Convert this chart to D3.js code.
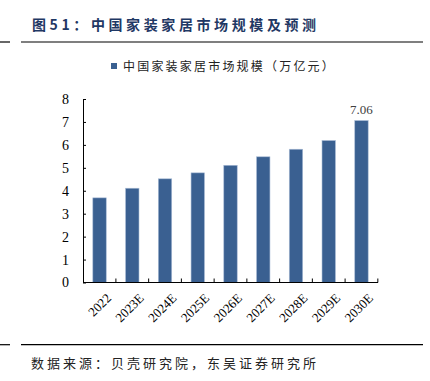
<!DOCTYPE html>
<html>
<head>
<meta charset="utf-8">
<script src="https://cdn.jsdelivr.net/npm/d3@7"></script>
<style>
  body { margin: 0; background: #fff; }
  svg { display: block; }
</style>
</head>
<body>
<script>
// chart data
var categories = ["2022", "2023E", "2024E", "2025E", "2026E", "2027E", "2028E", "2029E", "2030E"];
var values = [3.69, 4.11, 4.52, 4.78, 5.11, 5.48, 5.81, 6.19, 7.06];
var yTicks = [0, 1, 2, 3, 4, 5, 6, 7, 8];
var seriesName = "中国家装家居市场规模（万亿元）";
var title = "图51：中国家装家居市场规模及预测";
var source = "数据来源：贝壳研究院，东吴证券研究所";

function draw() {
    var width = 430, height = 381;
    var plotLeft = 83, plotRight = 378, plotTop = 99, plotBottom = 282.5;
    var cjk = "'Noto Sans CJK SC', sans-serif";
    var serif = "'Liberation Serif', 'Times New Roman', serif";

    var svg = d3.select("body").append("svg")
        .attr("width", width)
        .attr("height", height);

    // title + rules
    svg.append("text")
        .attr("x", 32).attr("y", 30)
        .attr("font-family", cjk).attr("font-size", 14).attr("font-weight", "bold")
        .attr("letter-spacing", 3.6)
        .attr("fill", "#1f3864")
        .text(title);

    [42, 344.7].forEach(function (yy) {
        svg.append("line").attr("x1", 21).attr("x2", 423).attr("y1", yy).attr("y2", yy)
            .attr("stroke", "#000").attr("stroke-width", 1.2);
        svg.append("line").attr("x1", 0).attr("x2", 10).attr("y1", yy).attr("y2", yy)
            .attr("stroke", "#000").attr("stroke-width", 1.2);
    });

    svg.append("text")
        .attr("x", 31).attr("y", 368)
        .attr("font-family", cjk).attr("font-size", 13)
        .attr("letter-spacing", 3)
        .attr("fill", "#222")
        .text(source);

    // legend
    svg.append("rect")
        .attr("x", 111).attr("y", 63).attr("width", 6).attr("height", 6)
        .attr("fill", "#3a6091");
    svg.append("text")
        .attr("x", 123).attr("y", 71)
        .attr("font-family", cjk).attr("font-size", 12)
        .attr("letter-spacing", 2.2)
        .attr("fill", "#222")
        .text(seriesName);

    // scales
    var x = d3.scaleBand().domain(categories).range([plotLeft, plotRight]).paddingInner(0.59).paddingOuter(0.3);
    var y = d3.scaleLinear().domain([0, 8]).range([plotBottom, plotTop]);

    // bars
    svg.selectAll(".bar")
        .data(values)
        .enter().append("rect")
        .attr("class", "bar")
        .attr("x", function (d, i) { return x(categories[i]); })
        .attr("y", function (d) { return y(d); })
        .attr("width", x.bandwidth())
        .attr("height", function (d) { return y(0) - y(d); })
        .attr("fill", "#3a6091")
        .attr("stroke", "#a9bcd6")
        .attr("stroke-width", 0.6);

    // label on last bar
    var last = values.length - 1;
    svg.append("text")
        .attr("x", x(categories[last]) + x.bandwidth() / 2)
        .attr("y", y(values[last]) - 7)
        .attr("text-anchor", "middle")
        .attr("font-family", serif).attr("font-size", 13)
        .attr("fill", "#404040")
        .text(values[last].toFixed(2));

    // y axis
    var yAxis = svg.append("g")
        .attr("transform", "translate(" + plotLeft + ",0)")
        .call(d3.axisLeft(y).tickValues(yTicks).tickSize(0).tickPadding(14));
    yAxis.select(".domain").attr("stroke", "#000");
    yAxis.selectAll("text").attr("font-family", serif).attr("font-size", 14).attr("fill", "#000");
    yAxis.selectAll(".tick").append("line").attr("x1", 0).attr("x2", 3).attr("stroke", "#000");

    // x axis
    var step = x.step();
    var xAxis = svg.append("g")
        .attr("transform", "translate(0," + plotBottom + ")");
    xAxis.append("line").attr("x1", plotLeft).attr("x2", plotRight).attr("stroke", "#000");
    xAxis.selectAll(".sep")
        .data(d3.range(categories.length))
        .enter().append("line")
        .attr("x1", function (i) { return x(categories[i]) + x.bandwidth() / 2 + step / 2; })
        .attr("x2", function (i) { return x(categories[i]) + x.bandwidth() / 2 + step / 2; })
        .attr("y1", 0).attr("y2", -4)
        .attr("stroke", "#000");

    xAxis.selectAll(".lbl")
        .data(categories)
        .enter().append("text")
        .attr("transform", function (d) {
            return "translate(" + (x(d) + x.bandwidth() / 2 + 6) + ",10) rotate(-45)";
        })
        .attr("text-anchor", "end")
        .attr("dy", "0.7em")
        .attr("font-family", serif).attr("font-size", 13)
        .attr("fill", "#000")
        .text(function (d) { return d; });
}

draw();
</script>
</body>
</html>
